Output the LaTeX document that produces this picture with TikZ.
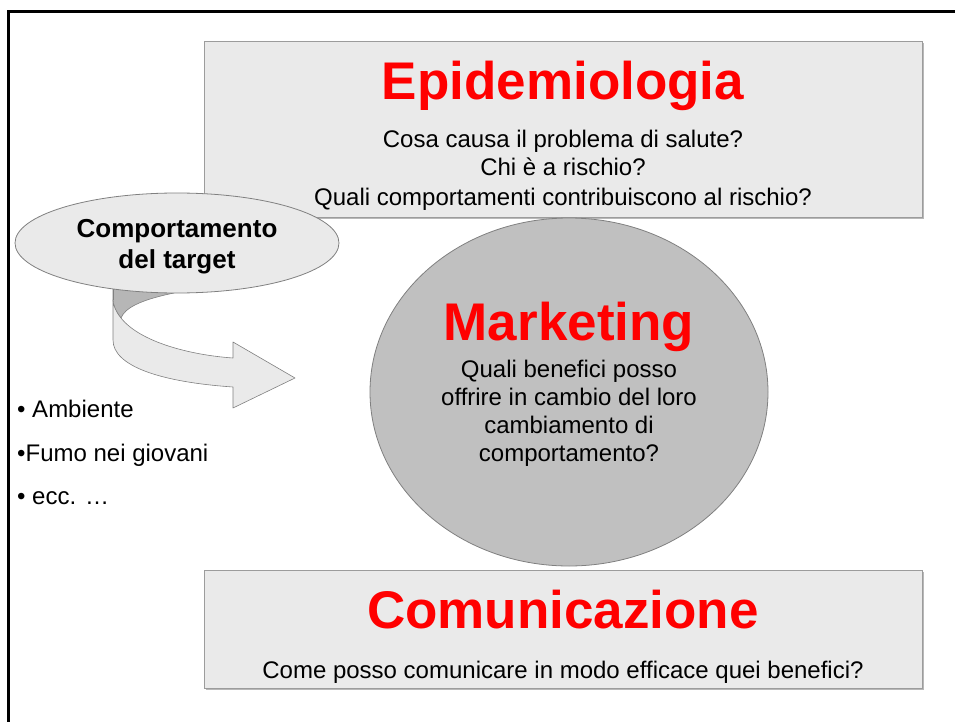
\documentclass[tikz,border=0pt]{standalone}
\usepackage{fontspec}
\setmainfont{Liberation Sans}
\usetikzlibrary{shapes.geometric}
\definecolor{boxgray}{HTML}{EAEAEA}
\definecolor{edgegray}{HTML}{9C9C9C}
\definecolor{shadegray}{HTML}{B8B8B8}
\definecolor{circgray}{HTML}{C0C0C0}
\definecolor{ribdark}{HTML}{B6B6B6}
\definecolor{titlered}{HTML}{FF0000}
\begin{document}
\begin{tikzpicture}[x=1pt,y=-1pt,
    greybox/.style={draw=edgegray,fill=boxgray,line width=0.9pt,inner sep=0pt},
    headtext/.style={anchor=base,inner sep=0pt,text=titlered,font=\fontsize{53}{60}\selectfont\bfseries},
    qline/.style={anchor=base,inner sep=0pt,font=\fontsize{24}{29}\selectfont},
    tline/.style={anchor=base,inner sep=0pt,font=\fontsize{26}{31}\selectfont\bfseries},
    bline/.style={anchor=base west,inner sep=0pt,font=\fontsize{24}{29}\selectfont},
    ribbon/.style={draw=gray,line width=0.6pt,line join=round}]
\useasboundingbox (0,0) rectangle (955,722);
\clip (0,0) rectangle (955,722);
% slide frame
\draw[line width=2.6pt] (8.7,740) |- (970,11.3);

%% Epidemiologia
\fill[shadegray] (206,43) rectangle (924,219);
\node[greybox,minimum width=718pt,minimum height=176pt] (epibox) at (563,129) {};
\node[headtext] (epititle) at (563,100) {Epidemiologia};
\foreach \txt/\yy [count=\i] in {Cosa causa il problema di salute?/148,
    Chi è a rischio?/176, Quali comportamenti contribuiscono al rischio?/205}{
  \node[qline] (epiq\i) at (563,\yy) {\txt};
}

%% Marketing
\node[ellipse,draw=gray,fill=circgray,line width=0.8pt,inner sep=0pt,
      minimum width=398pt,minimum height=348pt] (mktcirc) at (569,392) {};
\node[headtext] (mkttitle) at (569,340) {Marketing};
\foreach \txt/\yy [count=\i] in {Quali benefici posso/377,
    offrire in cambio del loro/405, cambiamento di/433, comportamento?/461}{
  \node[qline] (mktq\i) at (569,\yy) {\txt};
}

%% Comunicazione
\fill[shadegray] (206,572) rectangle (924,690);
\node[greybox,minimum width=718pt,minimum height=118pt] (combox) at (563,629) {};
\node[headtext] (comtitle) at (563,628) {Comunicazione};
\node[qline] (comq) at (563,678) {Come posso comunicare in modo efficace quei benefici?};

%% curved arrow under the target ellipse
\fill[ribdark,ribbon] (113,284) -- (174,284) -- (174,293)
    .. controls (140,300) and (125,308) .. (121,318)
    .. controls (116,312) and (113,305) .. (113,300) -- cycle;
\filldraw[fill=boxgray,ribbon] (113,300) .. controls (113,305) and (116,312) .. (121,318)
    .. controls (140,342) and (190,355) .. (233,358) -- (233,342) -- (295,378)
    -- (233,408) -- (233,387) .. controls (160,382) and (113,366) .. (113,340) -- cycle;
\draw[ribbon] (113,284) -- (113,300);

%% target ellipse
\node[ellipse,draw=gray,fill=boxgray,line width=0.8pt,inner sep=0pt,
      minimum width=324pt,minimum height=100pt] (target) at (177,243) {};
\node[tline] (target1) at (177,237) {Comportamento};
\node[tline] (target2) at (177,268) {del target};

%% bullets
\node[bline] (amb) at (17,417) {• Ambiente};
\node[bline] (fumo) at (17,461) {•Fumo nei giovani};
\node[bline] (ecc) at (17,504) {• ecc. …};
\end{tikzpicture}
\end{document}
